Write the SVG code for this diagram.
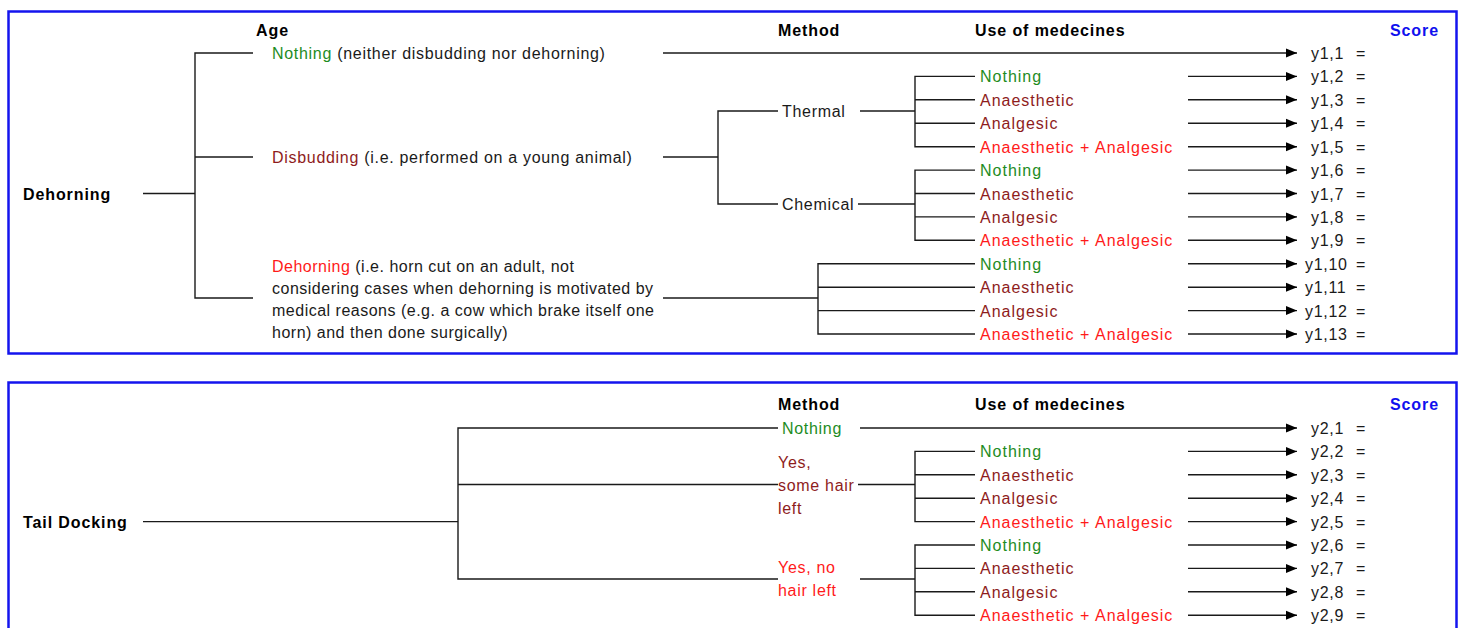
<svg xmlns="http://www.w3.org/2000/svg" width="1461" height="628" viewBox="0 0 1461 628">
<style>
text{font-family:"Liberation Sans",Arial,sans-serif;font-size:16px;letter-spacing:0.7px;fill:#1a1a1a}
.m text{letter-spacing:1px}
.n text{letter-spacing:0.5px}
.b{font-weight:bold;letter-spacing:0.9px;fill:#000}
.g{fill:#1e8c1e}
.dr{fill:#8e1c1c}
.r{fill:#ff1a1a}
.s{fill:#1010ee;font-weight:bold;letter-spacing:0.9px}
.box{fill:none;stroke:#1414ee;stroke-width:2.5}
#connectors path,#connectors line{stroke:#1a1a1a;stroke-width:1.4;fill:none}
#connectors line.a{marker-end:url(#arr)}
</style>
<defs>
<marker id="arr" markerUnits="userSpaceOnUse" markerWidth="12" markerHeight="10" refX="11" refY="5" orient="auto">
<path d="M0,0.5 L11,5 L0,9.5 z" fill="#000"/>
</marker>
</defs>
<rect width="1461" height="628" fill="#fff"/>
<rect class="box" x="8.5" y="11.5" width="1448" height="342"/>
<rect class="box" x="8.5" y="382.5" width="1448" height="260"/>

<g id="headers">
<text class="b" x="256" y="36">Age</text>
<text class="b" x="778" y="36">Method</text>
<text class="b" x="975" y="36">Use of medecines</text>
<text class="s" x="1390" y="36">Score</text>
<text class="b" x="778" y="410">Method</text>
<text class="b" x="975" y="410">Use of medecines</text>
<text class="s" x="1390" y="410">Score</text>
</g>

<g id="connectors">
<line x1="143" y1="193.5" x2="195" y2="193.5"/>
<path d="M253,53 H195 V298 H253 M195,157 H253"/>
<line class="a" x1="663" y1="53" x2="1297" y2="53"/>
<line x1="663" y1="157" x2="718" y2="157"/>
<path d="M778,111 H718 V204 H778"/>
<line x1="860" y1="111" x2="915" y2="111"/>
<line x1="858" y1="204" x2="915" y2="204"/>
<path d="M975,76.4 H915 V146.7 H975 M915,99.8 H975 M915,123.3 H975"/>
<path d="M975,170.1 H915 V240.3 H975 M915,193.5 H975 M915,216.9 H975"/>
<line x1="663" y1="298" x2="818" y2="298"/>
<path d="M975,263.8 H818 V334 H975 M818,287.2 H975 M818,310.6 H975"/>
<line class="a" x1="1188" y1="76.4" x2="1297" y2="76.4"/>
<line class="a" x1="1188" y1="99.8" x2="1297" y2="99.8"/>
<line class="a" x1="1188" y1="123.3" x2="1297" y2="123.3"/>
<line class="a" x1="1188" y1="146.7" x2="1297" y2="146.7"/>
<line class="a" x1="1188" y1="170.1" x2="1297" y2="170.1"/>
<line class="a" x1="1188" y1="193.5" x2="1297" y2="193.5"/>
<line class="a" x1="1188" y1="216.9" x2="1297" y2="216.9"/>
<line class="a" x1="1188" y1="240.3" x2="1297" y2="240.3"/>
<line class="a" x1="1188" y1="263.8" x2="1297" y2="263.8"/>
<line class="a" x1="1188" y1="287.2" x2="1297" y2="287.2"/>
<line class="a" x1="1188" y1="310.6" x2="1297" y2="310.6"/>
<line class="a" x1="1188" y1="334" x2="1297" y2="334"/>
<line x1="143" y1="521.6" x2="458" y2="521.6"/>
<path d="M778,428 H458 V579 H778 M458,484.5 H778"/>
<line class="a" x1="860" y1="428" x2="1297" y2="428"/>
<line x1="858" y1="484.5" x2="915" y2="484.5"/>
<line x1="860" y1="579" x2="915" y2="579"/>
<path d="M975,451.4 H915 V521.6 H975 M915,474.8 H975 M915,498.2 H975"/>
<path d="M975,545 H915 V615.2 H975 M915,568.4 H975 M915,591.8 H975"/>
<line class="a" x1="1188" y1="451.4" x2="1297" y2="451.4"/>
<line class="a" x1="1188" y1="474.8" x2="1297" y2="474.8"/>
<line class="a" x1="1188" y1="498.2" x2="1297" y2="498.2"/>
<line class="a" x1="1188" y1="521.6" x2="1297" y2="521.6"/>
<line class="a" x1="1188" y1="545" x2="1297" y2="545"/>
<line class="a" x1="1188" y1="568.4" x2="1297" y2="568.4"/>
<line class="a" x1="1188" y1="591.8" x2="1297" y2="591.8"/>
<line class="a" x1="1188" y1="615.2" x2="1297" y2="615.2"/>
</g>

<g id="dehorning"><text class="b" x="23" y="199.5">Dehorning</text></g>
<g id="age-nothing"><text x="272" y="59"><tspan class="g">Nothing</tspan> (neither disbudding nor dehorning)</text></g>
<g id="age-disbudding"><text x="272" y="163"><tspan class="dr">Disbudding</tspan> (i.e. performed on a young animal)</text></g>
<g id="age-dehorning" class="n">
<text x="272" y="271.5"><tspan class="r">Dehorning</tspan> (i.e. horn cut on an adult, not</text>
<text x="272" y="293.8">considering cases when dehorning is motivated by</text>
<text x="272" y="316.1">medical reasons (e.g. a cow which brake itself one</text>
<text x="272" y="338.4">horn) and then done surgically)</text>
</g>
<g id="thermal"><text x="782" y="117">Thermal</text></g>
<g id="chemical"><text x="782" y="210">Chemical</text></g>

<g id="med-d1" class="m">
<text class="g" x="980" y="82.4">Nothing</text>
<text class="dr" x="980" y="105.8">Anaesthetic</text>
<text class="dr" x="980" y="129.3">Analgesic</text>
<text class="r" x="980" y="152.7">Anaesthetic + Analgesic</text>
</g>
<g id="med-d2" class="m">
<text class="g" x="980" y="176.1">Nothing</text>
<text class="dr" x="980" y="199.5">Anaesthetic</text>
<text class="dr" x="980" y="222.9">Analgesic</text>
<text class="r" x="980" y="246.3">Anaesthetic + Analgesic</text>
</g>
<g id="med-d3" class="m">
<text class="g" x="980" y="269.8">Nothing</text>
<text class="dr" x="980" y="293.2">Anaesthetic</text>
<text class="dr" x="980" y="316.6">Analgesic</text>
<text class="r" x="980" y="340">Anaesthetic + Analgesic</text>
</g>

<g id="scores1">
<text x="1311" y="59">y1,1</text><text x="1356" y="59">=</text>
<text x="1311" y="82.4">y1,2</text><text x="1356" y="82.4">=</text>
<text x="1311" y="105.8">y1,3</text><text x="1356" y="105.8">=</text>
<text x="1311" y="129.3">y1,4</text><text x="1356" y="129.3">=</text>
<text x="1311" y="152.7">y1,5</text><text x="1356" y="152.7">=</text>
<text x="1311" y="176.1">y1,6</text><text x="1356" y="176.1">=</text>
<text x="1311" y="199.5">y1,7</text><text x="1356" y="199.5">=</text>
<text x="1311" y="222.9">y1,8</text><text x="1356" y="222.9">=</text>
<text x="1311" y="246.3">y1,9</text><text x="1356" y="246.3">=</text>
<text x="1305" y="269.8">y1,10</text><text x="1356" y="269.8">=</text>
<text x="1305" y="293.2">y1,11</text><text x="1356" y="293.2">=</text>
<text x="1305" y="316.6">y1,12</text><text x="1356" y="316.6">=</text>
<text x="1305" y="340">y1,13</text><text x="1356" y="340">=</text>
</g>

<g id="taildocking"><text class="b" x="23" y="527.6">Tail Docking</text></g>
<g id="method-nothing"><text class="g" x="782" y="434">Nothing</text></g>
<g id="method-somehair">
<text class="dr" x="778" y="468">Yes,</text>
<text class="dr" x="778" y="491">some hair</text>
<text class="dr" x="778" y="514">left</text>
</g>
<g id="method-nohair">
<text class="r" x="778" y="573">Yes, no</text>
<text class="r" x="778" y="596">hair left</text>
</g>
<g id="med-t1" class="m">
<text class="g" x="980" y="457.4">Nothing</text>
<text class="dr" x="980" y="480.8">Anaesthetic</text>
<text class="dr" x="980" y="504.2">Analgesic</text>
<text class="r" x="980" y="527.6">Anaesthetic + Analgesic</text>
</g>
<g id="med-t2" class="m">
<text class="g" x="980" y="551">Nothing</text>
<text class="dr" x="980" y="574.4">Anaesthetic</text>
<text class="dr" x="980" y="597.8">Analgesic</text>
<text class="r" x="980" y="621.2">Anaesthetic + Analgesic</text>
</g>
<g id="scores2">
<text x="1311" y="434">y2,1</text><text x="1356" y="434">=</text>
<text x="1311" y="457.4">y2,2</text><text x="1356" y="457.4">=</text>
<text x="1311" y="480.8">y2,3</text><text x="1356" y="480.8">=</text>
<text x="1311" y="504.2">y2,4</text><text x="1356" y="504.2">=</text>
<text x="1311" y="527.6">y2,5</text><text x="1356" y="527.6">=</text>
<text x="1311" y="551">y2,6</text><text x="1356" y="551">=</text>
<text x="1311" y="574.4">y2,7</text><text x="1356" y="574.4">=</text>
<text x="1311" y="597.8">y2,8</text><text x="1356" y="597.8">=</text>
<text x="1311" y="621.2">y2,9</text><text x="1356" y="621.2">=</text>
</g>
</svg>
